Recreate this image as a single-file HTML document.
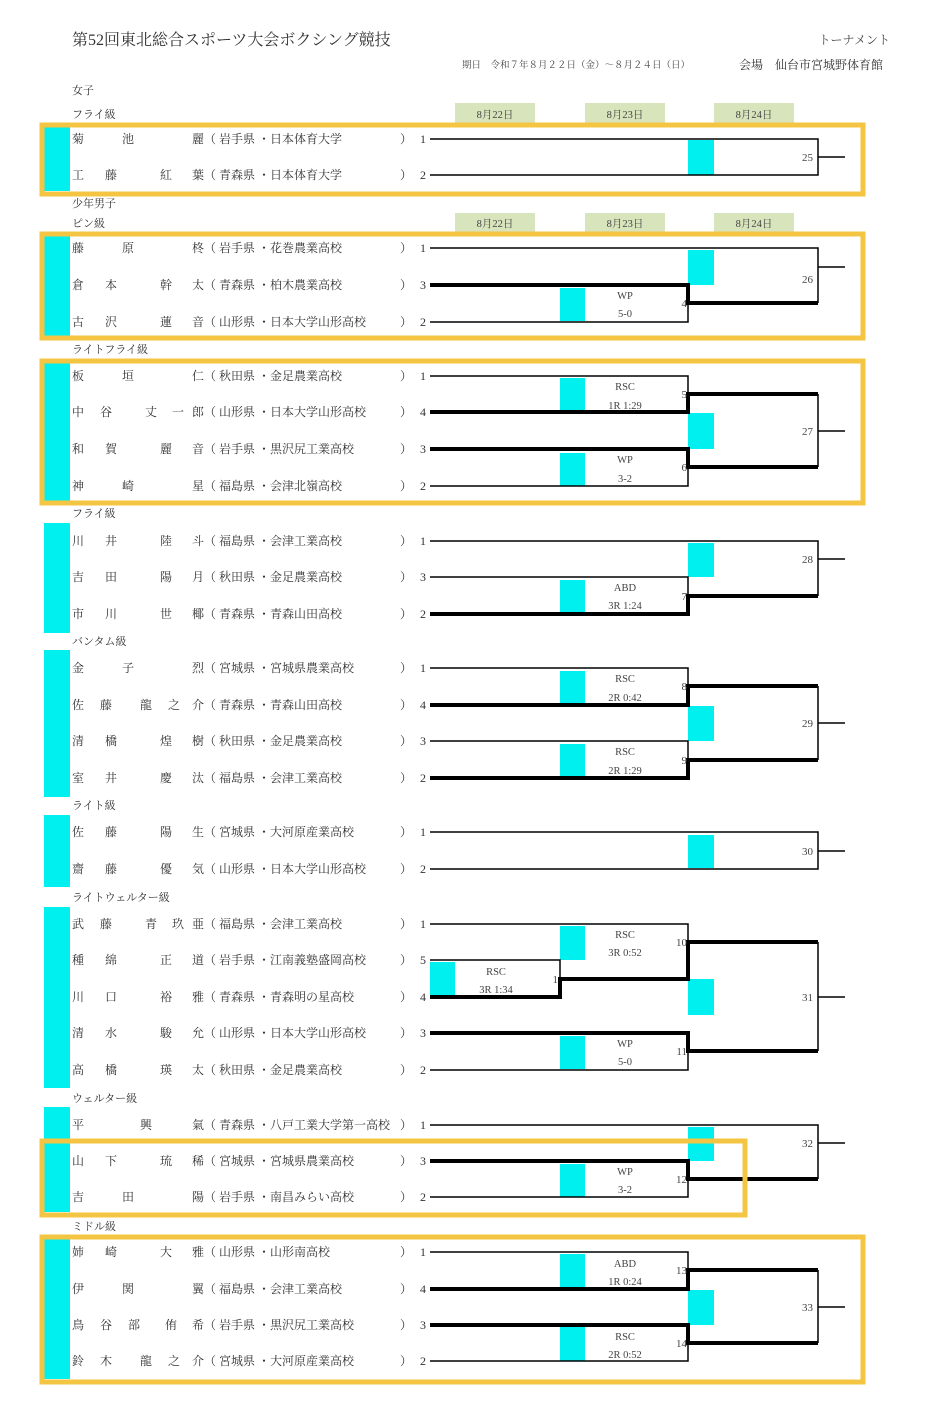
<!DOCTYPE html>
<html><head><meta charset="utf-8"><style>
html,body{margin:0;padding:0;background:#fff;}
svg{display:block;font-family:"Liberation Serif","Noto Serif CJK SC","Noto Sans CJK JP",serif;}
.n{font-size:12px;fill:#333;}
.s{font-size:11px;fill:#333;}
.l{font-size:10.5px;fill:#444;text-anchor:middle;}
.m{font-size:11px;fill:#444;text-anchor:end;}
.t{stroke:#000;stroke-width:1.5;fill:none;}
.k{stroke:#000;stroke-width:4;fill:none;}
.c{fill:#00f0f0;}
.y{fill:none;stroke:#f4c542;stroke-width:5;}
.g{fill:#d8e4bc;}
</style></head><body>
<svg width="930" height="1418" viewBox="0 0 930 1418">
<text x="72" y="45" style="font-size:16px;fill:#333">第52回東北総合スポーツ大会ボクシング競技</text>
<text x="890" y="44" style="font-size:12px;fill:#444;text-anchor:end">トーナメント</text>
<text x="462" y="68" style="font-size:9.5px;fill:#444">期日　令和７年８月２２日（金）～８月２４日（日）</text>
<text x="739" y="69" style="font-size:12px;fill:#333">会場　仙台市宮城野体育館</text>

<rect class="g" x="455" y="103" width="80" height="20"/><rect class="g" x="585" y="103" width="80" height="20"/><rect class="g" x="714" y="103" width="80" height="20"/>
<text class="l" x="495" y="118">8月22日</text><text class="l" x="625" y="118">8月23日</text><text class="l" x="754" y="118">8月24日</text>
<rect class="g" x="455" y="213" width="80" height="19"/><rect class="g" x="585" y="213" width="80" height="19"/><rect class="g" x="714" y="213" width="80" height="19"/>
<text class="l" x="495" y="227">8月22日</text><text class="l" x="625" y="227">8月23日</text><text class="l" x="754" y="227">8月24日</text>

<g class="s">
<text x="72" y="94">女子</text><text x="72" y="118">フライ級</text>
<text x="72" y="207">少年男子</text><text x="72" y="227">ピン級</text>
<text x="72" y="353">ライトフライ級</text><text x="72" y="517">フライ級</text>
<text x="72" y="645">バンタム級</text><text x="72" y="809">ライト級</text>
<text x="72" y="901">ライトウェルター級</text><text x="72" y="1102">ウェルター級</text>
<text x="72" y="1230">ミドル級</text>
</g>

<g class="c">
<rect x="44" y="123" width="26" height="68"/>
<rect x="44" y="233" width="26" height="103"/>
<rect x="44" y="362" width="26" height="139"/>
<rect x="44" y="523" width="26" height="110"/>
<rect x="44" y="650" width="26" height="147"/>
<rect x="44" y="815" width="26" height="72"/>
<rect x="44" y="907" width="26" height="181"/>
<rect x="44" y="1107" width="26" height="105"/>
<rect x="44" y="1237" width="26" height="142"/>
</g>

<g class="c">
<rect x="688" y="140" width="26" height="35"/>
<rect x="688" y="250" width="26" height="35"/><rect x="560" y="288" width="25" height="33"/>
<rect x="560" y="378" width="25" height="34"/><rect x="560" y="453" width="25" height="33"/><rect x="688" y="413" width="26" height="36"/>
<rect x="688" y="543" width="26" height="34"/><rect x="560" y="580" width="25" height="33"/>
<rect x="560" y="671" width="25" height="33"/><rect x="560" y="744" width="25" height="33"/><rect x="688" y="706" width="26" height="35"/>
<rect x="688" y="835" width="26" height="33"/>
<rect x="430" y="962" width="25" height="34"/><rect x="560" y="926" width="25" height="34"/><rect x="560" y="1036" width="25" height="33"/><rect x="688" y="979" width="26" height="36"/>
<rect x="560" y="1164" width="25" height="33"/><rect x="688" y="1127" width="26" height="34"/>
<rect x="560" y="1254" width="25" height="34"/><rect x="560" y="1327" width="25" height="34"/><rect x="688" y="1290" width="26" height="35"/>
</g>

<path class="t" d="M430 139H818V175H430M818 157H845"/>
<path class="t" d="M430 248H818V303M818 267H845M430 322H688V303"/>
<path class="k" d="M430 285H688V303H818"/>
<path class="t" d="M430 376H688V394M430 486H688V467M818 394V467M818 431H845"/>
<path class="k" d="M430 412H688V394H818M430 449H688V467H818"/>
<path class="t" d="M430 541H818V596M818 559H845M430 577H688V596"/>
<path class="k" d="M430 614H688V596H818"/>
<path class="t" d="M430 668H688V686M430 741H688V760M818 686V760M818 723H845"/>
<path class="k" d="M430 705H688V686H818M430 778H688V760H818"/>
<path class="t" d="M430 832H818V869H430M818 851H845"/>
<path class="t" d="M430 924H688V942M430 960H560V979M430 1070H688V1051M818 942V1051M818 997H845"/>
<path class="k" d="M430 997H560V979H688V942H818M430 1033H688V1051H818"/>
<path class="t" d="M430 1125H818V1179M818 1143H845M430 1197H688V1179"/>
<path class="k" d="M430 1161H688V1179H818"/>
<path class="t" d="M430 1252H688V1270M430 1361H688V1343M818 1270V1343M818 1307H845"/>
<path class="k" d="M430 1289H688V1270H818M430 1325H688V1343H818"/>

<g class="l">
<text x="625" y="299">WP</text><text x="625" y="317">5-0</text>
<text x="625" y="390">RSC</text><text x="625" y="409">1R 1:29</text>
<text x="625" y="463">WP</text><text x="625" y="482">3-2</text>
<text x="625" y="591">ABD</text><text x="625" y="609">3R 1:24</text>
<text x="625" y="682">RSC</text><text x="625" y="701">2R 0:42</text>
<text x="625" y="755">RSC</text><text x="625" y="774">2R 1:29</text>
<text x="496" y="975">RSC</text><text x="496" y="993">3R 1:34</text>
<text x="625" y="938">RSC</text><text x="625" y="956">3R 0:52</text>
<text x="625" y="1047">WP</text><text x="625" y="1065">5-0</text>
<text x="625" y="1175">WP</text><text x="625" y="1193">3-2</text>
<text x="625" y="1267">ABD</text><text x="625" y="1285">1R 0:24</text>
<text x="625" y="1340">RSC</text><text x="625" y="1358">2R 0:52</text>
</g>
<g class="m">
<text x="813" y="161">25</text><text x="813" y="283">26</text><text x="813" y="435">27</text><text x="813" y="563">28</text>
<text x="813" y="727">29</text><text x="813" y="855">30</text><text x="813" y="1001">31</text><text x="813" y="1147">32</text><text x="813" y="1311">33</text>
<text x="687" y="307">4</text><text x="687" y="398">5</text><text x="687" y="471">6</text><text x="687" y="600">7</text>
<text x="687" y="690">8</text><text x="687" y="764">9</text><text x="558" y="983">1</text><text x="687" y="946">10</text>
<text x="687" y="1055">11</text><text x="687" y="1183">12</text><text x="687" y="1274">13</text><text x="687" y="1347">14</text>
</g>

<g class="n">
<text x="72 122 192" y="143">菊池麗（ 岩手県 ・日本体育大学</text>
<text x="72 105 160 192" y="179">工藤紅葉（ 青森県 ・日本体育大学</text>
<text x="72 122 192" y="252">藤原柊（ 岩手県 ・花巻農業高校</text>
<text x="72 105 160 192" y="289">倉本幹太（ 青森県 ・柏木農業高校</text>
<text x="72 105 160 192" y="326">古沢蓮音（ 山形県 ・日本大学山形高校</text>
<text x="72 122 192" y="380">板垣仁（ 秋田県 ・金足農業高校</text>
<text x="72 100 145 172 192" y="416">中谷丈一郎（ 山形県 ・日本大学山形高校</text>
<text x="72 105 160 192" y="453">和賀麗音（ 岩手県 ・黒沢尻工業高校</text>
<text x="72 122 192" y="490">神崎星（ 福島県 ・会津北嶺高校</text>
<text x="72 105 160 192" y="545">川井陸斗（ 福島県 ・会津工業高校</text>
<text x="72 105 160 192" y="581">吉田陽月（ 秋田県 ・金足農業高校</text>
<text x="72 105 160 192" y="618">市川世椰（ 青森県 ・青森山田高校</text>
<text x="72 122 192" y="672">金子烈（ 宮城県 ・宮城県農業高校</text>
<text x="72 100 140 168 192" y="709">佐藤龍之介（ 青森県 ・青森山田高校</text>
<text x="72 105 160 192" y="745">清橋煌樹（ 秋田県 ・金足農業高校</text>
<text x="72 105 160 192" y="782">室井慶汰（ 福島県 ・会津工業高校</text>
<text x="72 105 160 192" y="836">佐藤陽生（ 宮城県 ・大河原産業高校</text>
<text x="72 105 160 192" y="873">齋藤優気（ 山形県 ・日本大学山形高校</text>
<text x="72 100 145 172 192" y="928">武藤青玖亜（ 福島県 ・会津工業高校</text>
<text x="72 105 160 192" y="964">種綿正道（ 岩手県 ・江南義塾盛岡高校</text>
<text x="72 105 160 192" y="1001">川口裕雅（ 青森県 ・青森明の星高校</text>
<text x="72 105 160 192" y="1037">清水駿允（ 山形県 ・日本大学山形高校</text>
<text x="72 105 160 192" y="1074">高橋瑛太（ 秋田県 ・金足農業高校</text>
<text x="72 140 192" y="1129">平興氣（ 青森県 ・八戸工業大学第一高校</text>
<text x="72 105 160 192" y="1165">山下琉稀（ 宮城県 ・宮城県農業高校</text>
<text x="72 122 192" y="1201">吉田陽（ 岩手県 ・南昌みらい高校</text>
<text x="72 105 160 192" y="1256">姉崎大雅（ 山形県 ・山形南高校</text>
<text x="72 122 192" y="1293">伊関翼（ 福島県 ・会津工業高校</text>
<text x="72 100 128 165 192" y="1329">鳥谷部侑希（ 岩手県 ・黒沢尻工業高校</text>
<text x="72 100 140 168 192" y="1365">鈴木龍之介（ 宮城県 ・大河原産業高校</text>
</g>
<g class="n">
<text x="400" y="143">）</text><text x="420" y="143">1</text>
<text x="400" y="179">）</text><text x="420" y="179">2</text>
<text x="400" y="252">）</text><text x="420" y="252">1</text>
<text x="400" y="289">）</text><text x="420" y="289">3</text>
<text x="400" y="326">）</text><text x="420" y="326">2</text>
<text x="400" y="380">）</text><text x="420" y="380">1</text>
<text x="400" y="416">）</text><text x="420" y="416">4</text>
<text x="400" y="453">）</text><text x="420" y="453">3</text>
<text x="400" y="490">）</text><text x="420" y="490">2</text>
<text x="400" y="545">）</text><text x="420" y="545">1</text>
<text x="400" y="581">）</text><text x="420" y="581">3</text>
<text x="400" y="618">）</text><text x="420" y="618">2</text>
<text x="400" y="672">）</text><text x="420" y="672">1</text>
<text x="400" y="709">）</text><text x="420" y="709">4</text>
<text x="400" y="745">）</text><text x="420" y="745">3</text>
<text x="400" y="782">）</text><text x="420" y="782">2</text>
<text x="400" y="836">）</text><text x="420" y="836">1</text>
<text x="400" y="873">）</text><text x="420" y="873">2</text>
<text x="400" y="928">）</text><text x="420" y="928">1</text>
<text x="400" y="964">）</text><text x="420" y="964">5</text>
<text x="400" y="1001">）</text><text x="420" y="1001">4</text>
<text x="400" y="1037">）</text><text x="420" y="1037">3</text>
<text x="400" y="1074">）</text><text x="420" y="1074">2</text>
<text x="400" y="1129">）</text><text x="420" y="1129">1</text>
<text x="400" y="1165">）</text><text x="420" y="1165">3</text>
<text x="400" y="1201">）</text><text x="420" y="1201">2</text>
<text x="400" y="1256">）</text><text x="420" y="1256">1</text>
<text x="400" y="1293">）</text><text x="420" y="1293">4</text>
<text x="400" y="1329">）</text><text x="420" y="1329">3</text>
<text x="400" y="1365">）</text><text x="420" y="1365">2</text>
</g>

<rect class="y" x="42" y="125" width="821" height="69"/>
<rect class="y" x="42" y="234" width="821" height="104"/>
<rect class="y" x="42" y="361" width="821" height="142"/>
<rect class="y" x="42" y="1141" width="703" height="74"/>
<rect class="y" x="42" y="1237" width="821" height="145"/>
</svg>
</body></html>
